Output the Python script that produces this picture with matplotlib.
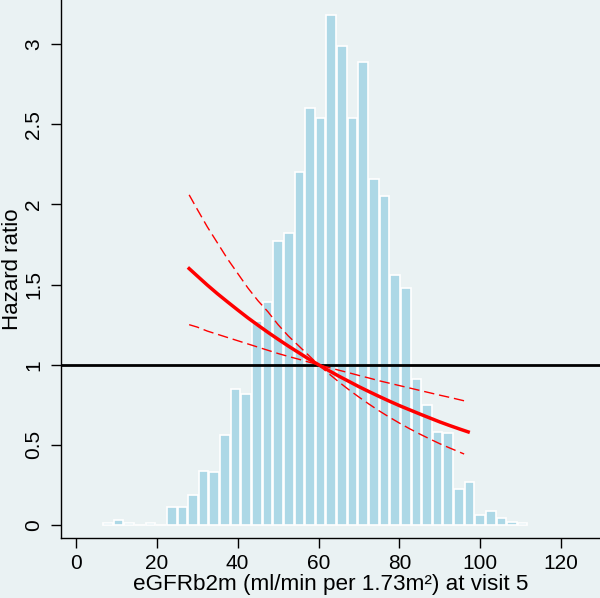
import numpy as np
import matplotlib
matplotlib.use("Agg")
from matplotlib import pyplot as plt

# histogram of eGFRb2m at visit 5 (bar heights read on the hazard ratio scale)
bin_start = 6.6
bin_width = 2.63
bar_heights = [0.015, 0.03, 0.01, 0.003, 0.015, 0.003, 0.11, 0.11, 0.19, 0.34,
               0.33, 0.56, 0.85, 0.82, 1.27, 1.39, 1.77, 1.82, 2.20, 2.60,
               2.54, 3.18, 2.99, 2.54, 2.89, 2.16, 2.05, 1.56, 1.48, 0.91,
               0.75, 0.58, 0.575, 0.225, 0.27, 0.06, 0.09, 0.045, 0.02, 0.01]

# hazard ratio curve (reference 60)
hr_x = [28, 30, 32.5, 35, 37.5, 40, 42.5, 45, 47.5, 50, 52.5, 55, 57.5, 60,
        62.5, 65, 67.5, 70, 72.5, 75, 77.5, 80, 82.5, 85, 87.5, 90, 92.5, 95, 97]
hr = [1.600, 1.554, 1.497, 1.443, 1.392, 1.342, 1.293, 1.247, 1.202, 1.159, 1.117, 1.077,
      1.037, 1.0, 0.964, 0.929, 0.896, 0.863, 0.832, 0.802, 0.773, 0.745, 0.719, 0.693,
      0.668, 0.643, 0.620, 0.598, 0.581]

# 95% confidence limits
ci_x = [28, 30, 32.5, 35, 37.5, 40, 42.5, 45, 47.5, 50, 52.5, 55, 57.5, 60,
        62.5, 65, 67.5, 70, 72.5, 75, 77.5, 80, 82.5, 85, 87.5, 90, 92.5, 96]
ci_a = [2.06, 1.97, 1.86, 1.76, 1.66, 1.57, 1.48, 1.40, 1.33, 1.25, 1.18, 1.12, 1.06, 1.0,
        0.945, 0.893, 0.844, 0.798, 0.754, 0.712, 0.673, 0.636, 0.601, 0.568, 0.537, 0.507,
        0.48, 0.443]
ci_b = [1.25, 1.235, 1.21, 1.19, 1.17, 1.15, 1.13, 1.11, 1.09, 1.07, 1.052, 1.035, 1.017, 1.0,
        0.983, 0.966, 0.95, 0.933, 0.917, 0.90, 0.885, 0.87, 0.855, 0.84, 0.825, 0.81,
        0.796, 0.775]

xticks = [0, 20, 40, 60, 80, 100, 120]
yticks = [0, 0.5, 1, 1.5, 2, 2.5, 3]
ytick_labels = ["0", "0.5", "1", "1.5", "2", "2.5", "3"]

bg = "#eaf2f3"
plt.rcParams['font.family'] = ['Liberation Sans', 'DejaVu Sans']

fig = plt.figure(figsize=(6.0, 5.98), dpi=100, facecolor=bg)
ax = fig.add_axes([0.102, 0.0998, 0.898, 0.9])
ax.set_facecolor(bg)

centers = bin_start + bin_width * (np.arange(len(bar_heights)) + 0.5)
ax.bar(centers, bar_heights, width=bin_width * 0.9, color="#add8e6",
       edgecolor="white", linewidth=1.2, zorder=1)

ax.axhline(1, color="black", lw=2.0, zorder=2)

ax.plot(hr_x, hr, color="red", lw=2.5, zorder=3)
ax.plot(ci_x, ci_a, color="red", lw=1.0, dashes=(7.5, 3.5), zorder=3)
ax.plot(ci_x, ci_b, color="red", lw=1.0, dashes=(7.5, 3.5), zorder=3)

ax.set_xlim(-3.64, 129.6)
ax.set_ylim(-0.083, 3.275)
ax.set_xticks(xticks)
ax.set_yticks(yticks)
ax.set_yticklabels(ytick_labels, rotation=90, va="center")
ax.tick_params(axis="both", direction="out", length=7, width=1, labelsize=15, color="black")
ax.tick_params(axis="y", pad=6)
ax.tick_params(axis="x", pad=4)

for s in ["top", "right"]:
    ax.spines[s].set_visible(False)
for s in ["left", "bottom"]:
    ax.spines[s].set_linewidth(1)
    ax.spines[s].set_color("black")

ax.set_xlabel("eGFRb2m (ml/min per 1.73m²) at visit 5", fontsize=16.2, labelpad=1)
ax.set_ylabel("Hazard ratio", fontsize=16, labelpad=1)

fig.savefig("out.png", dpi=100, facecolor=bg)
